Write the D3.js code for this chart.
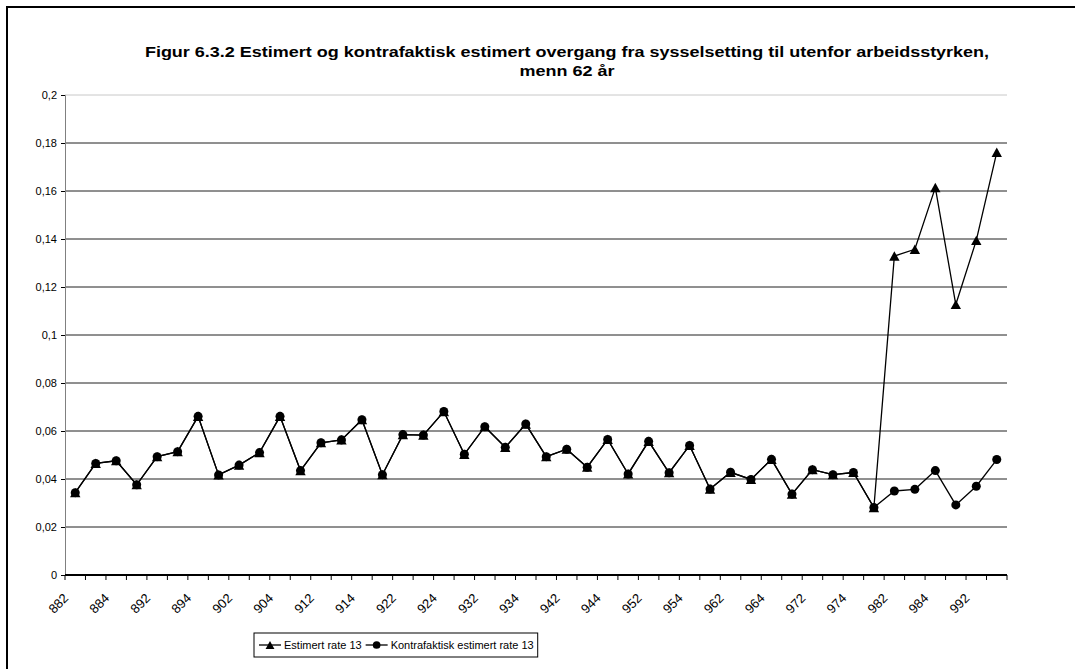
<!DOCTYPE html>
<html>
<head>
<meta charset="utf-8">
<script src="https://cdn.jsdelivr.net/npm/d3@7"></script>
<style>
  body { margin: 0; background: #fff; }
  svg { font-family: "Liberation Sans", Arial, sans-serif; }
  .axis text { font-size: 11px; fill: #000; }
  .axis path { stroke: #808080; }
  .axis line { stroke: #000; }
</style>
</head>
<body>
<div id="chart"></div>
<script>
// kvartaler 88:2 - 99:3
var quarters = ["882","883","884","891","892","893","894","901","902","903","904",
  "911","912","913","914","921","922","923","924","931","932","933","934",
  "941","942","943","944","951","952","953","954","961","962","963","964",
  "971","972","973","974","981","982","983","984","991","992","993"];

var kontrafaktisk = [0.0343,0.0465,0.0476,0.0376,0.0493,0.0514,0.0661,0.0417,0.0458,0.0510,0.0661,
  0.0435,0.0551,0.0563,0.0647,0.0418,0.0585,0.0583,0.0681,0.0503,0.0618,0.0532,0.0629,
  0.0493,0.0524,0.0449,0.0565,0.0421,0.0557,0.0426,0.0540,0.0358,0.0428,0.0398,0.0482,
  0.0337,0.0439,0.0418,0.0427,0.0281,0.0350,0.0357,0.0435,0.0292,0.0370,0.0481];

var estimert = kontrafaktisk.slice(0, 40).concat([0.1329,0.1357,0.1614,0.1127,0.1394,0.1761]);

var yTicks = [0,0.02,0.04,0.06,0.08,0.1,0.12,0.14,0.16,0.18,0.2];

var seriesNames = ["Estimert rate 13", "Kontrafaktisk estimert rate 13"];

var width = 1075, height = 669;
var plot = {left: 65, right: 1007, top: 95, bottom: 575};

var svg = d3.select("#chart").append("svg")
  .attr("width", width)
  .attr("height", height);

svg.append("rect").attr("width", width).attr("height", height).attr("fill", "#fff");

// ramme rundt hele diagrammet
svg.append("rect")
  .attr("x", 7).attr("y", 7)
  .attr("width", 1300).attr("height", 900)
  .attr("fill", "none")
  .attr("stroke", "#000")
  .attr("stroke-width", 2);

// tittel (litt bred skrift, som i Excel-originalen)
var title = svg.append("text")
  .attr("text-anchor", "middle")
  .attr("font-weight", "bold")
  .attr("font-size", "15px")
  .attr("transform", "translate(567,0) scale(1.2,1)");
title.append("tspan").attr("x", 0).attr("y", 57)
  .text("Figur 6.3.2 Estimert og kontrafaktisk estimert overgang fra sysselsetting til utenfor arbeidsstyrken,");
title.append("tspan").attr("x", 0).attr("y", 76).text("menn 62 år");

var xScale = d3.scaleBand()
  .domain(quarters)
  .range([plot.left, plot.right]);

var yScale = d3.scaleLinear()
  .domain([0, 0.2])
  .range([plot.bottom, plot.top]);

var cx = function(q) { return xScale(q) + xScale.bandwidth() / 2; };

// rutenett
svg.append("g").selectAll("line")
  .data(yTicks.filter(function(d) { return d > 0; }))
  .enter().append("line")
    .attr("x1", plot.left).attr("x2", plot.right)
    .attr("y1", function(d) { return yScale(d); })
    .attr("y2", function(d) { return yScale(d); })
    .attr("stroke", function(d) { return d === 0.2 ? "#c8c8c8" : "#202020"; })
    .attr("stroke-width", 1);

var formatComma = function(d) {
  return String(+d.toFixed(2)).replace(".", ",");
};

// y-akse
svg.append("g")
  .attr("class", "axis y-axis")
  .attr("transform", "translate(" + plot.left + ",0)")
  .call(d3.axisLeft(yScale).tickValues(yTicks).tickSize(4).tickPadding(4).tickFormat(formatComma))
  .call(function(g) { g.select(".domain").attr("stroke", "#000"); });

// x-akse: streker mellom kategoriene
var xAxis = svg.append("g")
  .attr("class", "axis x-axis")
  .attr("transform", "translate(0," + plot.bottom + ")");

xAxis.append("line")
  .attr("x1", plot.left).attr("x2", plot.right)
  .attr("stroke", "#808080").attr("stroke-width", 2);

xAxis.selectAll(".tick-line")
  .data(quarters.concat(["end"]))
  .enter().append("line")
    .attr("class", "tick-line")
    .attr("x1", function(d) { return d === "end" ? plot.right : xScale(d); })
    .attr("x2", function(d) { return d === "end" ? plot.right : xScale(d); })
    .attr("y1", 0).attr("y2", 5)
    .attr("stroke", "#000");

xAxis.selectAll(".tick-label")
  .data(quarters.filter(function(d, i) { return i % 2 === 0; }))
  .enter().append("text")
    .attr("class", "tick-label")
    .attr("text-anchor", "end")
    .style("font-size", "13px")
    .attr("transform", function(d) { return "translate(" + (cx(d) - 6) + ",24) rotate(-45)"; })
    .text(function(d) { return d; });

// markører: trekant sentrert i boksen, slik Excel tegner den
var triangle = "M0,-4.8L5.2,4.6L-5.2,4.6Z";
var circle = d3.symbol().type(d3.symbolCircle).size(64)();

var line = d3.line()
  .x(function(d, i) { return cx(quarters[i]); })
  .y(function(d) { return yScale(d); });

var series = [
  {name: seriesNames[0], values: estimert, marker: triangle},
  {name: seriesNames[1], values: kontrafaktisk, marker: circle}
];

series.forEach(function(s) {
  svg.append("path")
    .datum(s.values)
    .attr("fill", "none")
    .attr("stroke", "#000")
    .attr("stroke-width", 1.3)
    .attr("d", line);

  svg.append("g").selectAll("path")
    .data(s.values)
    .enter().append("path")
      .attr("transform", function(d, i) { return "translate(" + cx(quarters[i]) + "," + yScale(d) + ")"; })
      .attr("d", s.marker)
      .attr("fill", "#000");
});

// forklaring
var legend = svg.append("g").attr("transform", "translate(254,633)");
var legendBox = legend.append("rect")
  .attr("height", 24)
  .attr("fill", "#fff")
  .attr("stroke", "#000");

var xPos = 5;
series.forEach(function(s) {
  legend.append("line")
    .attr("x1", xPos).attr("x2", xPos + 22)
    .attr("y1", 12).attr("y2", 12)
    .attr("stroke", "#000").attr("stroke-width", 1.3);
  legend.append("path")
    .attr("transform", "translate(" + (xPos + 11) + ",12) scale(0.85)")
    .attr("d", s.marker)
    .attr("fill", "#000");
  var t = legend.append("text")
    .attr("x", xPos + 25).attr("y", 16)
    .attr("font-size", "11px")
    .text(s.name);
  xPos += 25 + t.node().getComputedTextLength() + 4;
});
legendBox.attr("width", xPos);
</script>
</body>
</html>
